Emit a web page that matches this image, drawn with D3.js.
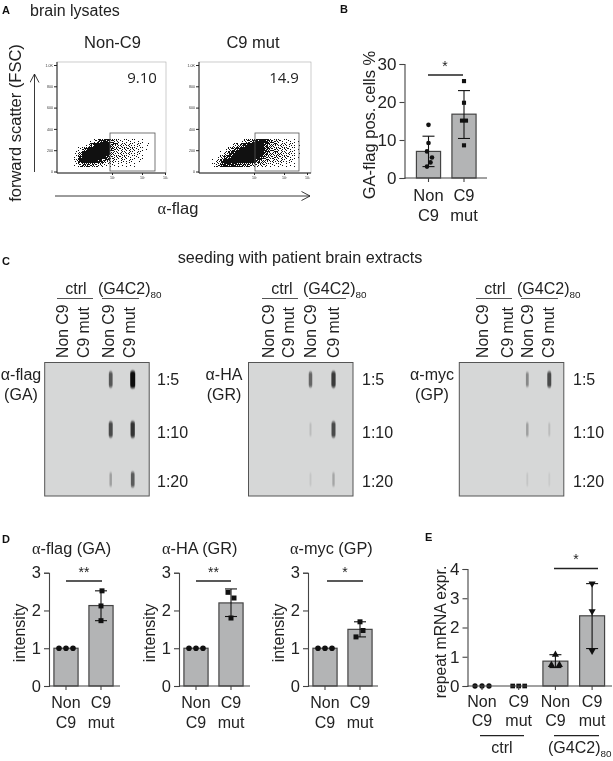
<!DOCTYPE html>
<html><head><meta charset="utf-8">
<script src="https://cdn.jsdelivr.net/npm/d3@7"></script>
<style>html,body{margin:0;background:#fff}svg{display:block;filter:blur(.3px)}text{font-family:"Liberation Sans",Arial,sans-serif;fill:#222}</style>
</head><body><div id="c"></div>
<script>
// ---------- DATA ----------
const fscTicks=[0,200,400,600,800,1000];
const fscTickLabels=["0","200","400","600","800","1.0K"];
const flagDecades=[1,2,3];
const flagDecadeLabels=["10\u00b9","10\u00b2","10\u00b3"];
const gatePercent=["9.10","14.9"];
const scatterTitles=["Non-C9","C9 mut"];
// density of events (0 empty .. 9 solid), one string per row, top to bottom
const densityNonC9=[
"0000013788532222111000",
"0000259999643332221100",
"0025899999643333221100",
"0159999999533332221000",
"0279999997433322211000",
"0389999864322222111000",
"0246654322211111100000"];
const densityC9mut=[
"000000013578986432221100",
"000002468999975433322100",
"000136899999975443322100",
"001378999999974443332100",
"013789999999854433322100",
"137999999997543333221000",
"247888766543332222111000"];
const bCats=["Non C9","C9 mut"];
const bMeans=[7,16.8];
const bErr=[[3,11],[10.4,23]];
const bPoints=[[14,9.2,7,5.4,4.1,3],[25.5,19.8,15.1,15.1,8.6]];
const bTicks=[0,10,20,30];
const blotLanes=["Non C9","C9 mut","Non C9","C9 mut"];
const dilutions=["1:5","1:10","1:20"];
// band strength per dilution (rows) for the two (G4C2)80 lanes
const blotGA=[[.62,1],[.68,.78],[.25,.6]];
const blotGR=[[.55,.75],[.12,.68],[.08,.22]];
const blotGP=[[.35,.68],[.25,.12],[.08,.06]];
const blotTitles=[["\u03b1-flag","(GA)"],["\u03b1-HA","(GR)"],["\u03b1-myc","(GP)"]];
const dCats=["Non C9","C9 mut"];
const dTitles=["flag (GA)","HA (GR)","myc (GP)"];
const dMeans=[[1,2.13],[1,2.2],[1,1.5]];
const dErr=[[[1,1],[1.73,2.52]],[[1,1],[1.84,2.57]],[[1,1],[1.3,1.7]]];
const dPoints=[[[1,1,1],[2.52,2.12,1.73]],[[1,1,1],[2.48,2.33,1.8]],[[1,1,1],[1.7,1.47,1.3]]];
const dStars=["**","**","*"];
const dTicks=[0,1,2,3];
const eCats=["ctrl Non C9","ctrl C9 mut","G4C2 Non C9","G4C2 C9 mut"];
const eMeans=[0,0,.85,2.4];
const eErr=[[0,0],[0,0],[.63,1.07],[1.28,3.5]];
const ePoints=[[0,0,0],[0,0,0],[1.07,.72,.72],[3.5,2.55,1.2]];
const eTicks=[0,1,2,3,4];

// ---------- LAYOUT ----------
const W=613,H=761,INK="#222",BAR="#b3b4b5",EDGE="#444";
const svg=d3.select("#c").append("svg").attr("width",W).attr("height",H);
const defs=svg.append("defs");
const bf=defs.append("filter").attr("id","band").attr("x","-100%").attr("width","300%").attr("y","-30%").attr("height","160%");
bf.append("feGaussianBlur").attr("stdDeviation","0.6 0.9");
const mk=defs.append("marker").attr("id","arr").attr("viewBox","0 0 10 10").attr("refX",9.5).attr("refY",5).attr("markerWidth",10).attr("markerHeight",10).attr("markerUnits","userSpaceOnUse").attr("orient","auto");
mk.append("path").attr("d","M1,0.5L9.5,5L1,9.5").attr("fill","none").attr("stroke",INK).attr("stroke-width",.9);

function T(x,y,s,size,o={}){
  const n=svg.append("text").attr("x",x).attr("y",y).attr("font-size",size).attr("text-anchor",o.a||"middle").text(s);
  if(o.rot!==undefined)n.attr("transform",`rotate(${o.rot} ${x} ${y})`);
  if(o.w)n.attr("font-weight",o.w);
  if(o.f)n.style("font-family",o.f);
  return n;
}
function line(x1,y1,x2,y2,w=1.2,c=INK,g=svg){return g.append("line").attr("x1",x1).attr("y1",y1).attr("x2",x2).attr("y2",y2).attr("stroke",c).attr("stroke-width",w);}
function g4c2(x,y,size){
  const n=T(x,y,"(G4C2)",size,{a:"start"});
  n.append("tspan").attr("dy",3.5).attr("font-size",size*.62).text("80");
}
function alphaTitle(x,y,s,size){
  const n=svg.append("text").attr("x",x).attr("y",y).attr("font-size",size);
  n.append("tspan").style("font-family","'Liberation Serif'").text("\u03b1");
  n.append("tspan").text("-"+s);
  return n;
}

// Panel letters
[["A",2,14],["B",340,13],["C",2,265],["D",2,543],["E",425,541]].forEach(d=>T(d[1],d[2],d[0],11,{a:"start",w:"bold"}).style("fill","#111"));

// ---------- PANEL A ----------
T(30,16,"brain lysates",16,{a:"start"});
// fixed, hand-scrambled stipple thresholds used to turn a density into dots
const stipple=[
[37,5,58,21,44,12,61,28],
[17,49,30,2,53,34,8,47],
[63,10,41,25,60,19,39,23],
[32,55,15,46,6,50,1,56],
[7,27,62,35,16,29,43,13],
[42,51,3,20,57,11,59,36],
[24,14,38,48,31,45,4,26],
[52,33,9,18,0,22,54,40]];
function scatter(left,right,grid,gx0,gateL,gateR,idx,numX){
  const y=d3.scaleLinear().domain([0,1000]).range([171.5,65]);
  const xd=d3.scaleLinear().domain(flagDecades).range([left+55,left+85,left+108]);
  const top=62,bot=173;
  svg.append("rect").attr("x",left).attr("y",top).attr("width",right-left).attr("height",bot-top).attr("fill","#fff").attr("stroke","#aaa").attr("stroke-width",.6);
  const cols=grid[0].length,rows=grid.length,cell=4;
  const cx=d3.scaleLinear().domain([0,cols]).range([gx0,gx0+cols*cell]);
  const cy=d3.scaleLinear().domain([0,rows]).range([139,139+rows*cell]);
  const dots=[];
  grid.forEach((row,r)=>row.split("").forEach((c,k)=>{
    const lvl=+c; if(!lvl)return;
    const frac=Math.pow(lvl/9,1.15);
    for(let i=0;i<cell;i++)for(let j=0;j<cell;j++){
      const px=Math.round(cx(k))+i,py=Math.round(cy(r))+j;
      if((stipple[py%8][px%8]+.5)/64<frac)dots.push([px,py]);
    }
  }));
  svg.append("g").selectAll("rect").data(dots).join("rect")
    .attr("x",d=>d[0]).attr("y",d=>d[1]).attr("width",1).attr("height",1).attr("fill","#111");
  svg.append("rect").attr("x",gateL).attr("y",133).attr("width",gateR-gateL).attr("height",38).attr("fill","none").attr("stroke","#555").attr("stroke-width",.8);
  const ay=svg.append("g").attr("transform",`translate(${left},0)`).call(d3.axisLeft(y).tickValues(fscTicks).tickFormat((d,i)=>fscTickLabels[i]).tickSize(3).tickPadding(1));
  ay.select(".domain").attr("stroke","#222").attr("d",`M0,${top}V${bot}`);
  const ax=svg.append("g").attr("transform",`translate(0,${bot})`).call(d3.axisBottom(xd).tickValues(flagDecades).tickFormat((d,i)=>flagDecadeLabels[i]).tickSize(2).tickPadding(1));
  ax.select(".domain").attr("stroke","#222").attr("d",`M${left},0H${right}`);
  [ay,ax].forEach(a=>{a.selectAll("text").attr("font-size",3.6).style("fill","#333");a.selectAll("line").attr("stroke","#222");a.attr("font-family",null)});
  T((left+right)/2+(idx?-2:1),48,scatterTitles[idx],16.5);
  T(numX,83,gatePercent[idx],15,{f:"'Open Sans'"});
}
scatter(57,166,densityNonC9,70,110,155,0,142);
scatter(199,311,densityC9mut,212,255,299,1,284);
T(21,123,"forward scatter (FSC)",16.5,{rot:-90});
line(34.5,172,34.5,74,.9).attr("marker-end","url(#arr)");
line(55,196,310,196,.9).attr("marker-end","url(#arr)");
{const n=alphaTitle(178,214,"flag",16.5);n.attr("text-anchor","middle");}

// ---------- BAR CHART HELPERS ----------
function bars(cfg){
  const y=d3.scaleLinear().domain(cfg.domain).range([cfg.y0,cfg.y1]);
  const n=cfg.cats.length,step=cfg.step;
  const x=d3.scaleBand().domain(cfg.cats).range([cfg.c0-step/2,cfg.c0+step*(n-1)+step/2]).paddingInner(cfg.pad).paddingOuter(cfg.pad/2);
  const cen=c=>x(c)+x.bandwidth()/2;
  const shown=cfg.cats.map((c,i)=>({c,m:cfg.means[i],e:cfg.err[i],p:cfg.points[i],off:cfg.off[i],sym:cfg.sym[i]}));
  svg.append("g").selectAll("rect").data(shown.filter(d=>d.m>0)).join("rect")
    .attr("x",d=>x(d.c)).attr("y",d=>y(d.m)).attr("width",x.bandwidth()).attr("height",d=>y(0)-y(d.m))
    .attr("fill",BAR).attr("stroke",EDGE).attr("stroke-width",1.2);
  const er=svg.append("g");
  shown.filter(d=>d.e[1]>d.e[0]).forEach(d=>{
    const c=cen(d.c);
    line(c,y(d.e[0]),c,y(d.e[1]),1.1,"#111",er);
    line(c-cfg.cap,y(d.e[0]),c+cfg.cap,y(d.e[0]),1.1,"#111",er);
    line(c-cfg.cap,y(d.e[1]),c+cfg.cap,y(d.e[1]),1.1,"#111",er);
  });
  const sy={c:d3.symbolCircle,s:d3.symbolSquare,u:d3.symbolTriangle,d:d3.symbolTriangle};
  shown.forEach(d=>d.p.forEach((v,i)=>{
    svg.append("path").attr("d",d3.symbol(sy[d.sym],cfg.size)())
      .attr("transform",`translate(${cen(d.c)+d.off[i]},${y(v)})${d.sym==="d"?" rotate(180)":""}`).attr("fill","#111");
  }));
  const ax=svg.append("g").attr("transform",`translate(${cfg.xAxis},0)`).call(d3.axisLeft(y).tickValues(cfg.ticks).tickSize(5).tickPadding(3).tickFormat(d3.format("d")));
  const bx=svg.append("g").attr("transform",`translate(0,${cfg.y0})`).call(d3.axisBottom(x).tickSize(4).tickFormat(""));
  bx.select(".domain").attr("d",`M${cfg.xAxis},0H${cfg.xEnd}`);
  [ax,bx].forEach(a=>{a.selectAll(".domain,line").attr("stroke",EDGE).attr("stroke-width",1.1);a.attr("font-family",null);});
  ax.selectAll("text").attr("font-size",cfg.tickFont).style("fill",INK);
  cfg.cats.forEach(c=>{
    const w=c.split(" ").slice(-2);
    T(cen(c),cfg.lab1,w[0],cfg.labFont);T(cen(c),cfg.lab2,w[1],cfg.labFont);
  });
  return {x,y,cen};
}

// ---------- PANEL B ----------
bars({domain:[0,30],y0:178,y1:64,cats:bCats,means:bMeans,err:bErr,points:bPoints,
  off:[[0,0,-1.5,3.5,2,-1.5],[0,0,-2,2,0]],sym:["c","s"],c0:428.5,step:35.5,pad:.32,cap:6,size:17,
  xAxis:404.5,xEnd:487,ticks:bTicks,tickFont:17,labFont:16.5,lab1:201,lab2:221});
line(428,75,463,75,1.5);
T(445,71,"*",14);
T(375,125,"GA-flag pos. cells %",16.5,{rot:-90});

// ---------- PANEL C ----------
T(300,263,"seeding with patient brain extracts",16.2);
function blot(left,lanePos,bandX,data,titles,titleX,dilX,ctrlX,ctrlL,gX,gL){
  const top=362.5,bottom=496;
  const width=104.5;
  const rx=d3.scaleLinear().domain([0,2]).range([379.5,479.5]);
  svg.append("rect").attr("x",left).attr("y",top).attr("width",width).attr("height",bottom-top).attr("fill","#d6d7d7").attr("stroke","#555").attr("stroke-width",1);
  const g=svg.append("g").attr("filter","url(#band)");
  data.forEach((row,r)=>row.forEach((v,l)=>{
    const bw=1.6+v*3.4,bh=13+v*4.5;
    g.append("rect").attr("x",left+bandX[l]-bw/2).attr("y",rx(r)-bh/2).attr("width",bw).attr("height",bh).attr("rx",bw/2)
      .attr("fill","#0c0c0c").attr("opacity",Math.min(1,v*1.05));
  }));
  blotLanes.forEach((s,i)=>T(lanePos[i],358,s,15.8,{a:"start",rot:-90}).attr("dy","0.36em"));
  T(ctrlX,294,"ctrl",16);
  line(ctrlL,298.5,ctrlL+36,298.5,1,"#555");
  g4c2(gX,294,16);
  line(gL,298.5,gL+37,298.5,1,"#555");
  T(titleX,380,titles[0],16);T(titleX,400,titles[1],16);
  [385,438,487].forEach((yy,i)=>T(dilX,yy,dilutions[i],16,{a:"start"}));
}
blot(44.7,[62,83,108,129],[66,88],blotGA,blotTitles[0],21,157,76,57,98,102);
blot(248.5,[268,288,310,333],[62,85],blotGR,blotTitles[1],224,362,282,262,303,309);
blot(459.3,[482,507,527,548],[68,90],blotGP,blotTitles[2],432,573,495,476,517,521);

// ---------- PANEL D ----------
const dCfg=[{c0:66,ax:49,end:120,lx:20,title:32,s0:66,s1:102},{c0:196,ax:179,end:250,lx:150,title:162,s0:196,s1:231},{c0:325,ax:308,end:378,lx:279,title:290,s0:327,s1:363}];
const dOff=[[[-7,0,7],[1,0,0]],[[-7,0,7],[-3,3,0]],[[-7,0,7],[0,3,-4]]];
dCfg.forEach((c,i)=>{
  bars({domain:[0,3],y0:686,y1:572.7,cats:dCats,means:dMeans[i],err:dErr[i],points:dPoints[i],off:dOff[i],sym:["c","s"],
    c0:c.c0,step:35,pad:.31,cap:6,size:25,xAxis:c.ax,xEnd:c.end,ticks:dTicks,tickFont:16.5,labFont:16,lab1:708,lab2:728});
  alphaTitle(c.title,554,dTitles[i],16.3);
  T(c.lx,633,"intensity",16,{rot:-90}).attr("dy","0.3em");
  line(c.s0,581,c.s1,581,1.5);
  T((c.s0+c.s1)/2,577,dStars[i],14);
});

// ---------- PANEL E ----------
bars({domain:[0,4],y0:686,y1:569,cats:eCats,means:eMeans,err:eErr,points:ePoints,
  off:[[-7,0,7],[-6,0,6],[0,-4,4],[0,0,0]],sym:["c","s","u","d"],c0:482,step:36.7,pad:.32,cap:6,size:22,
  xAxis:467.5,xEnd:612,ticks:eTicks,tickFont:17,labFont:16,lab1:707,lab2:726});
line(554,568.5,598,568.5,1.5);
T(576,564,"*",14);
T(446,632,"repeat mRNA expr.",15.7,{rot:-90});
line(480,735.7,524,735.7,1.3);
line(554,735.7,599,735.7,1.3);
T(502,753,"ctrl",16);
g4c2(548,753,16);
</script></body></html>
